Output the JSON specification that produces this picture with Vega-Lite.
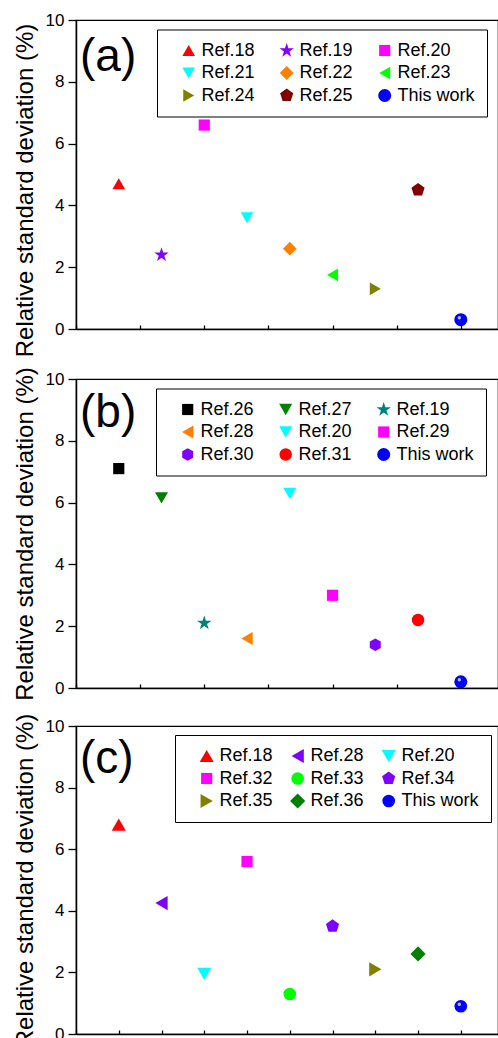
{
  "$schema": "https://vega.github.io/schema/vega-lite/v6.json",
  "padding": {"left": 12, "top": 10, "right": 0, "bottom": 0},
  "bounds": "flush",
  "spacing": 0,
  "datasets": {
    "a": [
      {"ref": "Ref.18", "x": 1, "rsd": 4.7},
      {"ref": "Ref.19", "x": 2, "rsd": 2.4},
      {"ref": "Ref.20", "x": 3, "rsd": 6.6},
      {"ref": "Ref.21", "x": 4, "rsd": 3.6},
      {"ref": "Ref.22", "x": 5, "rsd": 2.6},
      {"ref": "Ref.23", "x": 6, "rsd": 1.75},
      {"ref": "Ref.24", "x": 7, "rsd": 1.3},
      {"ref": "Ref.25", "x": 8, "rsd": 4.5},
      {"ref": "This work", "x": 9, "rsd": 0.3}
    ],
    "b": [
      {"ref": "Ref.26", "x": 1, "rsd": 7.1},
      {"ref": "Ref.27", "x": 2, "rsd": 6.15},
      {"ref": "Ref.19", "x": 3, "rsd": 2.1},
      {"ref": "Ref.28", "x": 4, "rsd": 1.6},
      {"ref": "Ref.20", "x": 5, "rsd": 6.3},
      {"ref": "Ref.29", "x": 6, "rsd": 3.0},
      {"ref": "Ref.30", "x": 7, "rsd": 1.4},
      {"ref": "Ref.31", "x": 8, "rsd": 2.2},
      {"ref": "This work", "x": 9, "rsd": 0.2}
    ],
    "c": [
      {"ref": "Ref.18", "x": 1, "rsd": 6.8},
      {"ref": "Ref.28", "x": 2, "rsd": 4.25},
      {"ref": "Ref.20", "x": 3, "rsd": 1.95},
      {"ref": "Ref.32", "x": 4, "rsd": 5.6},
      {"ref": "Ref.33", "x": 5, "rsd": 1.3},
      {"ref": "Ref.34", "x": 6, "rsd": 3.5},
      {"ref": "Ref.35", "x": 7, "rsd": 2.1},
      {"ref": "Ref.36", "x": 8, "rsd": 2.6},
      {"ref": "This work", "x": 9, "rsd": 0.9}
    ]
  },
  "vconcat": [
    {
      "width": 422, "height": 309,
      "title": {"text": "(a)"},
      "data": {"name": "a"},
      "layer": [
        {
          "mark": {"type": "point", "filled": true, "opacity": 1},
          "encoding": {
            "x": {"field": "x", "type": "quantitative", "scale": {"domain": [0, 9.87], "nice": false, "zero": false},
                  "axis": {"title": null, "labels": false, "values": [0, 1.5, 3, 4.5, 6, 7.5, 9], "tickSize": -4}},
            "y": {"field": "rsd", "type": "quantitative", "scale": {"domain": [0, 10], "nice": false},
                  "axis": {"title": "Relative standard deviation (%)", "values": [0,1,2,3,4,5,6,7,8,9,10],
                           "labelExpr": "datum.value % 2 === 0 ? datum.label : ''",
                           "tickSize": {"condition": {"test": "datum.value % 2 === 0", "value": 8}, "value": 4},
                           "labelPadding": 4, "titlePadding": 8, "titleY": 170}},
            "color": {"field": "ref", "type": "nominal",
                      "scale": {"domain": ["Ref.18","Ref.19","Ref.20","Ref.21","Ref.22","Ref.23","Ref.24","Ref.25","This work"],
                                "range": ["#FF0000","#7F00FF","#FF00FF","#00FFFF","#FF8000","#00FF00","#808000","#800000","#0000FF"]},
                      "legend": {"legendX": 81, "legendY": 9.5}},
            "shape": {"field": "ref", "type": "nominal",
                      "scale": {"domain": ["Ref.18","Ref.19","Ref.20","Ref.21","Ref.22","Ref.23","Ref.24","Ref.25","This work"],
                                "range": ["triangle-up","M0,-1L0.225,-0.309L0.951,-0.309L0.363,0.118L0.588,0.809L0,0.382L-0.588,0.809L-0.363,0.118L-0.951,-0.309L-0.225,-0.309Z","square","triangle-down","diamond","triangle-left","triangle-right","M0,-1L0.951,-0.309L0.588,0.809L-0.588,0.809L-0.951,-0.309Z","circle"]},
                      "legend": {"legendX": 81, "legendY": 9.5}},
            "size": {"field": "ref", "type": "nominal",
                      "scale": {"type": "ordinal", "domain": ["Ref.18","Ref.19","Ref.20","Ref.21","Ref.22","Ref.23","Ref.24","Ref.25","This work"],
                                "range": [160, 230, 125, 160, 190, 160, 160, 190, 170]},
                      "legend": {"legendX": 81, "legendY": 9.5}}
          }
        },
        {
          "transform": [{"filter": "datum.ref === 'This work'"}],
          "mark": {"type": "point", "filled": true, "opacity": 0.9, "color": "#c8d2ff", "size": 12, "xOffset": -1.5, "yOffset": -2},
          "encoding": {
            "x": {"field": "x", "type": "quantitative"},
            "y": {"field": "rsd", "type": "quantitative"}
          }
        }
      ]
    },
    {"width": 422, "height": 49.7, "data": {"values": []}, "mark": "point", "view": {"stroke": null}},
    {
      "width": 422, "height": 309,
      "title": {"text": "(b)"},
      "data": {"name": "b"},
      "layer": [
        {
          "mark": {"type": "point", "filled": true, "opacity": 1},
          "encoding": {
            "x": {"field": "x", "type": "quantitative", "scale": {"domain": [0, 9.87], "nice": false, "zero": false},
                  "axis": {"title": null, "labels": false, "values": [0, 1, 1.5, 2, 3, 4, 4.5, 5, 6, 7, 7.5, 8, 9], "tickSize": -4}},
            "y": {"field": "rsd", "type": "quantitative", "scale": {"domain": [0, 10], "nice": false},
                  "axis": {"title": "Relative standard deviation (%)", "values": [0,1,2,3,4,5,6,7,8,9,10],
                           "labelExpr": "datum.value % 2 === 0 ? datum.label : ''",
                           "tickSize": {"condition": {"test": "datum.value % 2 === 0", "value": 8}, "value": 4},
                           "labelPadding": 4, "titlePadding": 8}},
            "color": {"field": "ref", "type": "nominal",
                      "scale": {"domain": ["Ref.26","Ref.27","Ref.19","Ref.28","Ref.20","Ref.29","Ref.30","Ref.31","This work"],
                                "range": ["#000000","#008000","#008080","#FF8000","#00FFFF","#FF00FF","#7F00FF","#FF0000","#0000FF"]},
                      "legend": {"legendX": 80, "legendY": 9.5}},
            "shape": {"field": "ref", "type": "nominal",
                      "scale": {"domain": ["Ref.26","Ref.27","Ref.19","Ref.28","Ref.20","Ref.29","Ref.30","Ref.31","This work"],
                                "range": ["square","triangle-down","M0,-1L0.225,-0.309L0.951,-0.309L0.363,0.118L0.588,0.809L0,0.382L-0.588,0.809L-0.363,0.118L-0.951,-0.309L-0.225,-0.309Z","triangle-left","triangle-down","square","M0,-1L0.866,-0.5L0.866,0.5L0,1L-0.866,0.5L-0.866,-0.5Z","circle","circle"]},
                      "legend": {"legendX": 80, "legendY": 9.5}},
            "size": {"field": "ref", "type": "nominal",
                      "scale": {"type": "ordinal", "domain": ["Ref.26","Ref.27","Ref.19","Ref.28","Ref.20","Ref.29","Ref.30","Ref.31","This work"],
                                "range": [125, 170, 230, 170, 170, 125, 160, 155, 170]},
                      "legend": {"legendX": 80, "legendY": 9.5}}
          }
        },
        {
          "transform": [{"filter": "datum.ref === 'This work'"}],
          "mark": {"type": "point", "filled": true, "opacity": 0.9, "color": "#c8d2ff", "size": 12, "xOffset": -1.5, "yOffset": -2},
          "encoding": {
            "x": {"field": "x", "type": "quantitative"},
            "y": {"field": "rsd", "type": "quantitative"}
          }
        }
      ]
    },
    {"width": 422, "height": 37.6, "data": {"values": []}, "mark": "point", "view": {"stroke": null}},
    {
      "width": 422, "height": 308,
      "title": {"text": "(c)"},
      "data": {"name": "c"},
      "layer": [
        {
          "mark": {"type": "point", "filled": true, "opacity": 1},
          "encoding": {
            "x": {"field": "x", "type": "quantitative", "scale": {"domain": [0, 9.87], "nice": false, "zero": false},
                  "axis": {"title": null, "labels": false, "values": [0,1,2,3,4,5,6,7,8,9], "tickSize": -4}},
            "y": {"field": "rsd", "type": "quantitative", "scale": {"domain": [0, 10], "nice": false},
                  "axis": {"title": "Relative standard deviation (%)", "values": [0,1,2,3,4,5,6,7,8,9,10],
                           "labelExpr": "datum.value % 2 === 0 ? datum.label : ''",
                           "tickSize": {"condition": {"test": "datum.value % 2 === 0", "value": 8}, "value": 4},
                           "labelPadding": 4, "titlePadding": 8}},
            "color": {"field": "ref", "type": "nominal",
                      "scale": {"domain": ["Ref.18","Ref.28","Ref.20","Ref.32","Ref.33","Ref.34","Ref.35","Ref.36","This work"],
                                "range": ["#FF0000","#7F00FF","#00FFFF","#FF00FF","#00FF00","#7F00FF","#808000","#008000","#0000FF"]},
                      "legend": {"legendX": 99, "legendY": 9, "columnPadding": 5}},
            "shape": {"field": "ref", "type": "nominal",
                      "scale": {"domain": ["Ref.18","Ref.28","Ref.20","Ref.32","Ref.33","Ref.34","Ref.35","Ref.36","This work"],
                                "range": ["triangle-up","triangle-left","triangle-down","square","circle","M0,-1L0.951,-0.309L0.588,0.809L-0.588,0.809L-0.951,-0.309Z","triangle-right","diamond","circle"]},
                      "legend": {"legendX": 99, "legendY": 9, "columnPadding": 5}},
            "size": {"field": "ref", "type": "nominal",
                      "scale": {"type": "ordinal", "domain": ["Ref.18","Ref.28","Ref.20","Ref.32","Ref.33","Ref.34","Ref.35","Ref.36","This work"],
                                "range": [200, 200, 200, 125, 160, 190, 200, 230, 160]},
                      "legend": {"legendX": 99, "legendY": 9, "columnPadding": 5}}
          }
        },
        {
          "transform": [{"filter": "datum.ref === 'This work'"}],
          "mark": {"type": "point", "filled": true, "opacity": 0.9, "color": "#c8d2ff", "size": 12, "xOffset": -1.5, "yOffset": -2},
          "encoding": {
            "x": {"field": "x", "type": "quantitative"},
            "y": {"field": "rsd", "type": "quantitative"}
          }
        }
      ]
    }
  ],
  "resolve": {"scale": {"color": "independent", "shape": "independent", "size": "independent"}},
  "config": {
    "font": "Liberation Sans",
    "view": {"stroke": "black", "strokeWidth": 1.2},
    "axis": {"domainColor": "black", "domainWidth": 1.5, "tickColor": "black", "tickWidth": 1.3, "grid": false,
             "labelFont": "Liberation Sans", "labelFontSize": 17, "labelColor": "black",
             "titleFont": "Liberation Sans", "titleFontSize": 24, "titleFontWeight": "normal", "titleColor": "black"},
    "legend": {"orient": "none", "direction": "horizontal", "columns": 3, "title": null, "strokeColor": "black", "strokeWidth": 1,
               "fillColor": "white", "padding": 12, "labelFont": "Liberation Sans", "labelFontSize": 18,
               "labelColor": "black", "rowPadding": 4.5, "columnPadding": 12, "symbolOffset": 10.7, "labelOffset": 3.7,
               "symbolStrokeWidth": 0, "symbolOpacity": 1},
    "title": {"font": "Liberation Sans", "fontSize": 46, "fontWeight": "normal", "anchor": "start", "frame": "group",
              "baseline": "alphabetic", "offset": -70, "dx": 4, "color": "black"}
  }
}
